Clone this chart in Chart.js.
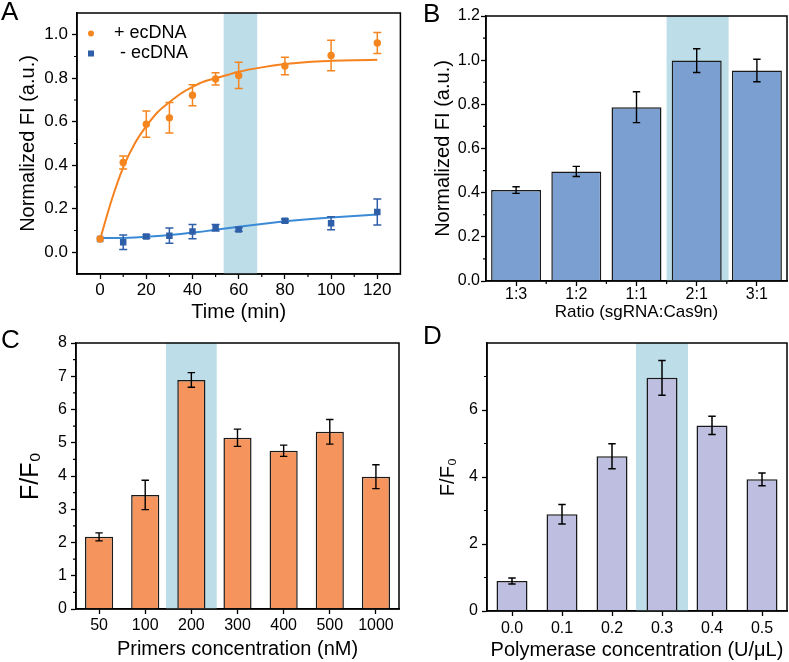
<!DOCTYPE html>
<html>
<head>
<meta charset="utf-8">
<script src="https://cdn.jsdelivr.net/npm/chart.js@4.4.0/dist/chart.umd.min.js"></script>
<style>
  body { margin: 0; background: #fff; }
  #fig { position: relative; width: 789px; height: 662px; overflow: hidden; font-family: 'Liberation Sans', Arial, sans-serif; }
  #fig canvas { position: absolute; }
  .tag { position: absolute; font-size: 26px; line-height: 1; color: #000; }
</style>
</head>
<body>
<div id="fig">
  <canvas id="chartA" width="405" height="331" style="left:0;top:0"></canvas>
  <canvas id="chartB" width="384" height="331" style="left:405px;top:0"></canvas>
  <canvas id="chartC" width="405" height="331" style="left:0;top:331px"></canvas>
  <canvas id="chartD" width="384" height="331" style="left:405px;top:331px"></canvas>
  <div class="tag" style="left:1px;top:-2px">A</div>
  <div class="tag" style="left:423px;top:0px">B</div>
  <div class="tag" style="left:1px;top:326px">C</div>
  <div class="tag" style="left:423px;top:322px">D</div>
</div>
<script>
// ---- panel A : kinetics ----
const timeMin = [0, 10, 20, 30, 40, 50, 60, 80, 100, 120];
const plusEcDNA = [0.061, 0.413, 0.589, 0.618, 0.722, 0.797, 0.813, 0.856, 0.905, 0.962];
const plusEcDNAErr = [0, 0.03, 0.06, 0.07, 0.048, 0.028, 0.06, 0.04, 0.07, 0.048];
const minusEcDNA = [0.061, 0.046, 0.072, 0.076, 0.095, 0.113, 0.105, 0.145, 0.133, 0.185];
const minusEcDNAErr = [0, 0.033, 0.008, 0.035, 0.033, 0.015, 0.008, 0.008, 0.03, 0.06];
// fitted curves
const fitTime = [0, 5, 10, 15, 20, 25, 30, 35, 40, 45, 50, 55, 60, 70, 80, 90, 100, 110, 120];
const plusFit = [0.06, 0.24, 0.39, 0.50, 0.58, 0.645, 0.69, 0.73, 0.76, 0.785, 0.80, 0.815, 0.83, 0.85, 0.865, 0.875, 0.88, 0.883, 0.885];
const minusFit = [0.065, 0.065, 0.066, 0.068, 0.071, 0.075, 0.079, 0.084, 0.09, 0.096, 0.103, 0.11, 0.117, 0.13, 0.142, 0.152, 0.16, 0.167, 0.173];
const timeTicks = [0, 20, 40, 60, 80, 100, 120];
const fiTicksA = [0, 0.2, 0.4, 0.6, 0.8, 1.0];

// ---- panel B : sgRNA:Cas9n ratio ----
const ratioLabels = ['1:3', '1:2', '1:1', '2:1', '3:1'];
const ratioFI = [0.412, 0.496, 0.787, 0.998, 0.953];
const ratioErr = [0.015, 0.023, 0.07, 0.054, 0.051];
const fiTicksB = [0, 0.2, 0.4, 0.6, 0.8, 1.0, 1.2];

// ---- panel C : primers ----
const primerLabels = ['50', '100', '200', '300', '400', '500', '1000'];
const primerFF0 = [2.17, 3.43, 6.89, 5.15, 4.76, 5.33, 3.98];
const primerErr = [0.12, 0.44, 0.22, 0.26, 0.17, 0.37, 0.36];
const ffTicksC = [0, 1, 2, 3, 4, 5, 6, 7, 8];

// ---- panel D : polymerase ----
const polyLabels = ['0.0', '0.1', '0.2', '0.3', '0.4', '0.5'];
const polyFF0 = [0.895, 2.89, 4.62, 6.96, 5.54, 3.93];
const polyErr = [0.09, 0.29, 0.37, 0.52, 0.27, 0.19];
const ffTicksD = [0, 2, 4, 6];

Chart.defaults.font.family = "'Liberation Sans', Arial, sans-serif";
Chart.defaults.color = '#000';
Chart.defaults.animation = false;

const BAND = '#bddde8';

// shaded highlight column
const bandPlugin = {
  id: 'band',
  beforeDatasetsDraw(chart, args, opts) {
    if (!opts.range) return;
    const { ctx, chartArea: a, scales: { x } } = chart;
    const x0 = x.getPixelForValue(opts.range[0]);
    const x1 = x.getPixelForValue(opts.range[1]);
    ctx.save();
    ctx.fillStyle = BAND;
    ctx.fillRect(x0, a.top, x1 - x0, a.bottom - a.top);
    ctx.restore();
  }
};

// vertical error bars with caps
const errorBarPlugin = {
  id: 'errorBars',
  afterDatasetsDraw(chart, args, opts) {
    const { ctx } = chart;
    const y = chart.scales.y;
    chart.data.datasets.forEach((ds, i) => {
      if (!ds.errors) return;
      const meta = chart.getDatasetMeta(i);
      ctx.save();
      ctx.strokeStyle = ds.errorColor || '#000';
      ctx.lineWidth = opts.width || 1.4;
      ctx.beginPath();
      meta.data.forEach((el, j) => {
        const e = ds.errors[j];
        if (!e) return;
        const d = ds.data[j];
        const v = typeof d === 'object' ? d.y : d;
        const yt = y.getPixelForValue(v + e);
        const yb = y.getPixelForValue(v - e);
        const c = opts.cap || 4;
        ctx.moveTo(el.x, yt); ctx.lineTo(el.x, yb);
        ctx.moveTo(el.x - c, yt); ctx.lineTo(el.x + c, yt);
        ctx.moveTo(el.x - c, yb); ctx.lineTo(el.x + c, yb);
      });
      ctx.stroke();
      ctx.restore();
    });
  }
};

// closed box + minor ticks
const framePlugin = {
  id: 'frame',
  afterDraw(chart, args, opts) {
    const { ctx, chartArea: a, scales: { x, y } } = chart;
    ctx.save();
    ctx.strokeStyle = '#000';
    ctx.lineWidth = 1.5;
    ctx.strokeRect(a.left, a.top, a.right - a.left, a.bottom - a.top);
    ctx.lineWidth = 1.2;
    ctx.beginPath();
    (opts.xMinor || []).forEach(v => {
      const px = x.getPixelForValue(v);
      ctx.moveTo(px, a.bottom); ctx.lineTo(px, a.bottom + 3);
    });
    (opts.yMinor || []).forEach(v => {
      const py = y.getPixelForValue(v);
      ctx.moveTo(a.left, py); ctx.lineTo(a.left - 3, py);
    });
    ctx.stroke();
    ctx.restore();
  }
};

// small legend inside the plot box (panel A)
const insideLegend = {
  id: 'insideLegend',
  afterDraw(chart, args, opts) {
    if (!opts.items) return;
    const { ctx, chartArea: a } = chart;
    ctx.save();
    ctx.font = opts.size + "px 'Liberation Sans', Arial, sans-serif";
    ctx.textBaseline = 'middle';
    opts.items.forEach((idx, k) => {
      const ds = chart.data.datasets[idx];
      const cy = a.top + opts.top + k * opts.row;
      const cx = a.left + opts.markerX;
      ctx.fillStyle = ds.backgroundColor;
      if (ds.pointStyle === 'rect') {
        ctx.fillRect(cx - 3, cy - 3, 6, 6);
      } else {
        ctx.beginPath(); ctx.arc(cx, cy, 3, 0, Math.PI * 2); ctx.fill();
      }
      ctx.fillStyle = '#000';
      ctx.fillText(ds.label, a.left + opts.textX[k], cy);
    });
    ctx.restore();
  }
};

function minors(min, max, step, major) {
  const out = [];
  const n = Math.round((max - min) / step);
  for (let i = 1; i < n; i++) {
    const v = min + i * step;
    const r = v / major;
    if (Math.abs(r - Math.round(r)) > 1e-6) out.push(v);
  }
  return out;
}

function yAxis(o) {
  return {
    min: o.min, max: o.max,
    afterFit: s => { s.width = o.width; },
    afterBuildTicks: s => { s.ticks = o.ticks.map(v => ({ value: v })); },
    grid: { drawOnChartArea: false, tickLength: 5, tickWidth: 1.3, tickColor: '#000' },
    border: { color: '#000', width: 1.5 },
    ticks: { font: { size: o.tickSize, lineHeight: 1 }, padding: o.tickPad, color: '#000', callback: o.fmt },
    title: { display: true, text: o.title, color: '#000', font: { size: o.titleSize }, padding: { top: o.titlePad, bottom: 0 } }
  };
}

function catAxis(o) {
  return {
    afterFit: s => { s.height = o.height; },
    grid: { offset: false, drawOnChartArea: false, tickLength: 5, tickWidth: 1.3, tickColor: '#000' },
    border: { color: '#000', width: 1.5 },
    ticks: { font: { size: o.tickSize, lineHeight: 1 }, padding: o.tickPad, color: '#000', maxRotation: 0, autoSkip: false },
    title: { display: true, text: o.title, color: '#000', font: { size: o.titleSize }, padding: { top: 0, bottom: o.titlePad } }
  };
}

// ---------- A ----------
new Chart('chartA', {
  type: 'scatter',
  data: {
    datasets: [{
      label: '+ ecDNA',
      data: timeMin.map((t, i) => ({ x: t, y: plusEcDNA[i] })),
      errors: plusEcDNAErr, errorColor: '#f5861f',
      backgroundColor: '#f5861f', borderColor: '#f5861f', borderWidth: 0,
      pointStyle: 'circle', pointRadius: 3.7, order: 0
    }, {
      label: '- ecDNA',
      data: timeMin.map((t, i) => ({ x: t, y: minusEcDNA[i] })),
      errors: minusEcDNAErr, errorColor: '#2f5fa8',
      backgroundColor: '#2f5fa8', borderColor: '#2f5fa8', borderWidth: 0,
      pointStyle: 'rect', pointRadius: 4.6, order: 0
    }, {
      label: 'fit +',
      data: fitTime.map((t, i) => ({ x: t, y: plusFit[i] })),
      showLine: true, pointRadius: 0, borderColor: '#f5821f', borderWidth: 2,
      cubicInterpolationMode: 'monotone', order: 1
    }, {
      label: 'fit -',
      data: fitTime.map((t, i) => ({ x: t, y: minusFit[i] })),
      showLine: true, pointRadius: 0, borderColor: '#3b8ad6', borderWidth: 2,
      cubicInterpolationMode: 'monotone', order: 1
    }]
  },
  options: {
    responsive: false,
    layout: { padding: { left: 0, top: 13, right: 4, bottom: 0 } },
    scales: {
      x: {
        type: 'linear', min: -10, max: 130,
        afterFit: s => { s.height = 57; },
        afterBuildTicks: s => { s.ticks = timeTicks.map(v => ({ value: v })); },
        grid: { drawOnChartArea: false, tickLength: 5, tickWidth: 1.3, tickColor: '#000' },
        border: { color: '#000', width: 1.5 },
        ticks: { font: { size: 17, lineHeight: 1 }, padding: 3, color: '#000' },
        title: { display: true, text: 'Time (min)', color: '#000', font: { size: 20 }, padding: { top: 0, bottom: 7 } }
      },
      y: yAxis({ min: -0.1, max: 1.1, width: 77, ticks: fiTicksA, tickSize: 17, tickPad: 4,
        fmt: v => v.toFixed(1), title: 'Normalized FI (a.u.)', titleSize: 20, titlePad: 16 })
    },
    plugins: {
      legend: { display: false },
      tooltip: { enabled: false },
      band: { range: [53.5, 68] },
      errorBars: { cap: 4, width: 1.5 },
      frame: { xMinor: minors(-10, 130, 10, 20), yMinor: minors(-0.1, 1.1, 0.1, 0.2) },
      insideLegend: { items: [0, 1], size: 18, top: 20.5, row: 20, markerX: 14, textX: [37, 43] }
    }
  },
  plugins: [bandPlugin, errorBarPlugin, framePlugin, insideLegend]
});

// ---------- B ----------
new Chart('chartB', {
  type: 'bar',
  data: {
    labels: ratioLabels,
    datasets: [{
      data: ratioFI, errors: ratioErr,
      backgroundColor: '#7a9fd0', borderColor: '#1a1a1a', borderWidth: 1.5,
      barPercentage: 0.83, categoryPercentage: 1
    }]
  },
  options: {
    responsive: false,
    layout: { padding: { left: 0, top: 16, right: 2, bottom: 0 } },
    scales: {
      x: catAxis({ height: 50, tickSize: 16, tickPad: 1, title: 'Ratio (sgRNA:Cas9n)', titleSize: 17, titlePad: 8 }),
      y: yAxis({ min: 0, max: 1.2, width: 81, ticks: fiTicksB, tickSize: 16, tickPad: 1,
        fmt: v => v.toFixed(1), title: 'Normalized FI (a.u.)', titleSize: 20, titlePad: 26 })
    },
    plugins: {
      legend: { display: false },
      tooltip: { enabled: false },
      band: { range: [2.5, 3.53] },
      errorBars: { cap: 3.7, width: 1.4 },
      frame: { xMinor: [0.5, 1.5, 2.5, 3.5], yMinor: minors(0, 1.2, 0.1, 0.2) }
    }
  },
  plugins: [bandPlugin, errorBarPlugin, framePlugin]
});

// ---------- C ----------
new Chart('chartC', {
  type: 'bar',
  data: {
    labels: primerLabels,
    datasets: [{
      data: primerFF0, errors: primerErr,
      backgroundColor: '#f5955d', borderColor: '#1a1a1a', borderWidth: 1.5,
      barPercentage: 0.61, categoryPercentage: 1
    }]
  },
  options: {
    responsive: false,
    layout: { padding: { left: 0, top: 11, right: 6, bottom: 0 } },
    scales: {
      x: catAxis({ height: 53, tickSize: 16, tickPad: 4, title: 'Primers concentration (nM)', titleSize: 20, titlePad: 1 }),
      y: yAxis({ min: 0, max: 8, width: 76, ticks: ffTicksC, tickSize: 16, tickPad: 4,
        fmt: v => String(v), title: 'F/F\u2080', titleSize: 25, titlePad: 16 })
    },
    plugins: {
      legend: { display: false },
      tooltip: { enabled: false },
      band: { range: [1.45, 2.55] },
      errorBars: { cap: 3.7, width: 1.4 },
      frame: { yMinor: minors(0, 8, 0.5, 1) }
    }
  },
  plugins: [bandPlugin, errorBarPlugin, framePlugin]
});

// ---------- D ----------
new Chart('chartD', {
  type: 'bar',
  data: {
    labels: polyLabels,
    datasets: [{
      data: polyFF0, errors: polyErr,
      backgroundColor: '#bebee0', borderColor: '#1a1a1a', borderWidth: 1.5,
      barPercentage: 0.62, categoryPercentage: 1
    }]
  },
  options: {
    responsive: false,
    layout: { padding: { left: 0, top: 10, right: 2, bottom: 0 } },
    scales: {
      x: catAxis({ height: 51, tickSize: 16, tickPad: 5, title: 'Polymerase concentration (U/\u03bcL)', titleSize: 20, titlePad: 0 }),
      y: yAxis({ min: 0, max: 8, width: 82, ticks: ffTicksD, tickSize: 16, tickPad: 4,
        fmt: v => String(v), title: 'F/F\u2080', titleSize: 20, titlePad: 31 })
    },
    plugins: {
      legend: { display: false },
      tooltip: { enabled: false },
      band: { range: [2.48, 3.52] },
      errorBars: { cap: 3.7, width: 1.5 },
      frame: { yMinor: minors(0, 8, 1, 2) }
    }
  },
  plugins: [bandPlugin, errorBarPlugin, framePlugin]
});
</script>
</body>
</html>
